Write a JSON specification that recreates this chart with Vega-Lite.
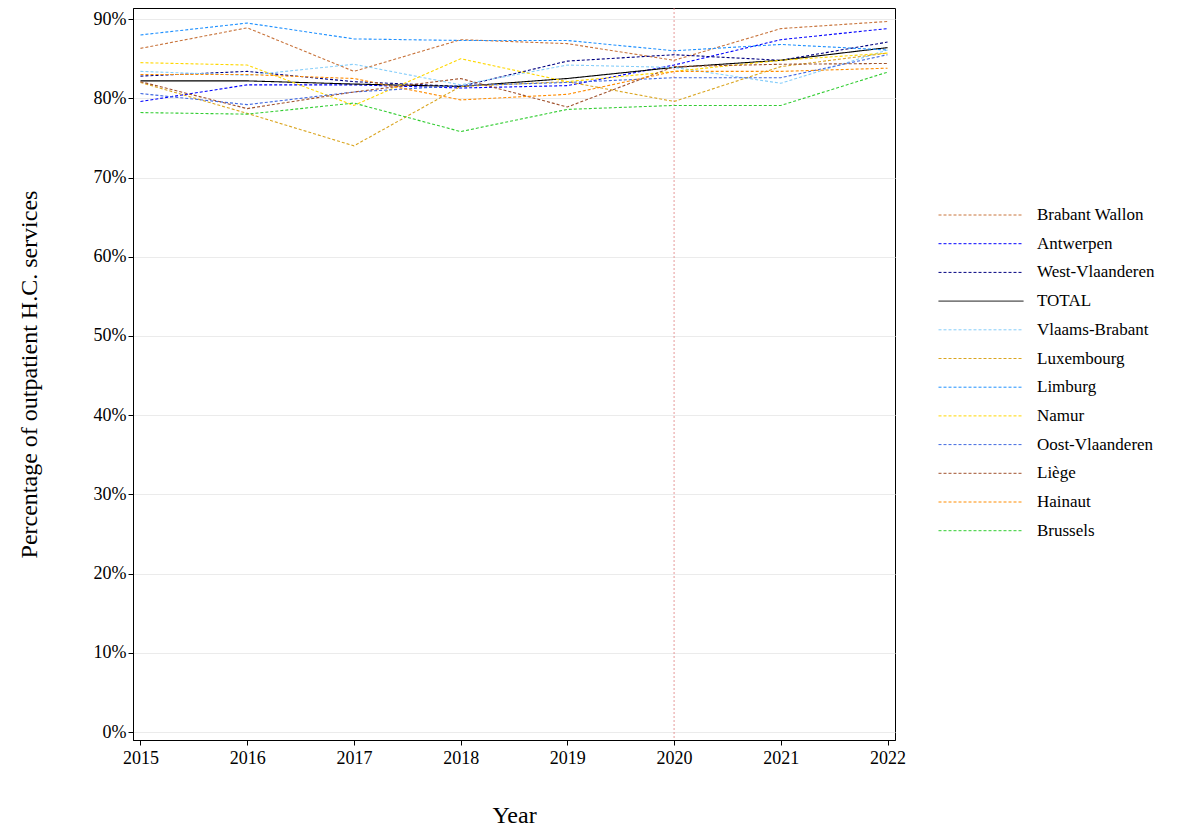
{
  "$schema": "https://vega.github.io/schema/vega-lite/v6.json",
  "width": 762,
  "height": 732,
  "autosize": {"type": "none"},
  "padding": {"left": 133, "top": 8, "right": 283, "bottom": 87},
  "background": "white",
  "config": {
    "font": "Liberation Serif",
    "view": {"stroke": "black", "strokeWidth": 1},
    "axis": {"labelFont": "Liberation Serif", "titleFont": "Liberation Serif", "labelFontSize": 18, "titleFontSize": 24, "titleFontWeight": "normal", "labelColor": "black", "titleColor": "black", "tickColor": "black", "domainColor": "black"}
  },
  "datasets": {
    "lines": [
      {"region": "Brabant Wallon", "year": 2015, "pct": 86.3}, {"region": "Brabant Wallon", "year": 2016, "pct": 88.9}, {"region": "Brabant Wallon", "year": 2017, "pct": 83.4}, {"region": "Brabant Wallon", "year": 2018, "pct": 87.4}, {"region": "Brabant Wallon", "year": 2019, "pct": 86.9}, {"region": "Brabant Wallon", "year": 2020, "pct": 84.8}, {"region": "Brabant Wallon", "year": 2021, "pct": 88.8}, {"region": "Brabant Wallon", "year": 2022, "pct": 89.7},
      {"region": "Antwerpen", "year": 2015, "pct": 79.6}, {"region": "Antwerpen", "year": 2016, "pct": 81.7}, {"region": "Antwerpen", "year": 2017, "pct": 81.7}, {"region": "Antwerpen", "year": 2018, "pct": 81.3}, {"region": "Antwerpen", "year": 2019, "pct": 81.6}, {"region": "Antwerpen", "year": 2020, "pct": 84.2}, {"region": "Antwerpen", "year": 2021, "pct": 87.4}, {"region": "Antwerpen", "year": 2022, "pct": 88.8},
      {"region": "West-Vlaanderen", "year": 2015, "pct": 82.8}, {"region": "West-Vlaanderen", "year": 2016, "pct": 83.4}, {"region": "West-Vlaanderen", "year": 2017, "pct": 82.1}, {"region": "West-Vlaanderen", "year": 2018, "pct": 81.5}, {"region": "West-Vlaanderen", "year": 2019, "pct": 84.7}, {"region": "West-Vlaanderen", "year": 2020, "pct": 85.5}, {"region": "West-Vlaanderen", "year": 2021, "pct": 84.8}, {"region": "West-Vlaanderen", "year": 2022, "pct": 87.1},
      {"region": "TOTAL", "year": 2015, "pct": 82.2}, {"region": "TOTAL", "year": 2016, "pct": 82.2}, {"region": "TOTAL", "year": 2017, "pct": 81.8}, {"region": "TOTAL", "year": 2018, "pct": 81.5}, {"region": "TOTAL", "year": 2019, "pct": 82.5}, {"region": "TOTAL", "year": 2020, "pct": 83.9}, {"region": "TOTAL", "year": 2021, "pct": 84.8}, {"region": "TOTAL", "year": 2022, "pct": 86.4},
      {"region": "Vlaams-Brabant", "year": 2015, "pct": 83.4}, {"region": "Vlaams-Brabant", "year": 2016, "pct": 82.9}, {"region": "Vlaams-Brabant", "year": 2017, "pct": 84.3}, {"region": "Vlaams-Brabant", "year": 2018, "pct": 81.7}, {"region": "Vlaams-Brabant", "year": 2019, "pct": 84.2}, {"region": "Vlaams-Brabant", "year": 2020, "pct": 83.9}, {"region": "Vlaams-Brabant", "year": 2021, "pct": 81.9}, {"region": "Vlaams-Brabant", "year": 2022, "pct": 86.1},
      {"region": "Luxembourg", "year": 2015, "pct": 82.0}, {"region": "Luxembourg", "year": 2016, "pct": 78.1}, {"region": "Luxembourg", "year": 2017, "pct": 74.0}, {"region": "Luxembourg", "year": 2018, "pct": 81.5}, {"region": "Luxembourg", "year": 2019, "pct": 82.1}, {"region": "Luxembourg", "year": 2020, "pct": 79.6}, {"region": "Luxembourg", "year": 2021, "pct": 84.0}, {"region": "Luxembourg", "year": 2022, "pct": 85.7},
      {"region": "Limburg", "year": 2015, "pct": 88.0}, {"region": "Limburg", "year": 2016, "pct": 89.5}, {"region": "Limburg", "year": 2017, "pct": 87.5}, {"region": "Limburg", "year": 2018, "pct": 87.3}, {"region": "Limburg", "year": 2019, "pct": 87.3}, {"region": "Limburg", "year": 2020, "pct": 86.0}, {"region": "Limburg", "year": 2021, "pct": 86.8}, {"region": "Limburg", "year": 2022, "pct": 86.1},
      {"region": "Namur", "year": 2015, "pct": 84.5}, {"region": "Namur", "year": 2016, "pct": 84.2}, {"region": "Namur", "year": 2017, "pct": 79.1}, {"region": "Namur", "year": 2018, "pct": 85.0}, {"region": "Namur", "year": 2019, "pct": 82.1}, {"region": "Namur", "year": 2020, "pct": 83.4}, {"region": "Namur", "year": 2021, "pct": 84.8}, {"region": "Namur", "year": 2022, "pct": 85.7},
      {"region": "Oost-Vlaanderen", "year": 2015, "pct": 80.6}, {"region": "Oost-Vlaanderen", "year": 2016, "pct": 79.2}, {"region": "Oost-Vlaanderen", "year": 2017, "pct": 80.8}, {"region": "Oost-Vlaanderen", "year": 2018, "pct": 81.6}, {"region": "Oost-Vlaanderen", "year": 2019, "pct": 82.0}, {"region": "Oost-Vlaanderen", "year": 2020, "pct": 82.6}, {"region": "Oost-Vlaanderen", "year": 2021, "pct": 82.6}, {"region": "Oost-Vlaanderen", "year": 2022, "pct": 85.5},
      {"region": "Liège", "year": 2015, "pct": 82.1}, {"region": "Liège", "year": 2016, "pct": 78.7}, {"region": "Liège", "year": 2017, "pct": 80.8}, {"region": "Liège", "year": 2018, "pct": 82.5}, {"region": "Liège", "year": 2019, "pct": 78.9}, {"region": "Liège", "year": 2020, "pct": 84.0}, {"region": "Liège", "year": 2021, "pct": 84.3}, {"region": "Liège", "year": 2022, "pct": 84.4},
      {"region": "Hainaut", "year": 2015, "pct": 83.0}, {"region": "Hainaut", "year": 2016, "pct": 83.0}, {"region": "Hainaut", "year": 2017, "pct": 82.5}, {"region": "Hainaut", "year": 2018, "pct": 79.8}, {"region": "Hainaut", "year": 2019, "pct": 80.5}, {"region": "Hainaut", "year": 2020, "pct": 83.4}, {"region": "Hainaut", "year": 2021, "pct": 83.4}, {"region": "Hainaut", "year": 2022, "pct": 83.8},
      {"region": "Brussels", "year": 2015, "pct": 78.2}, {"region": "Brussels", "year": 2016, "pct": 78.0}, {"region": "Brussels", "year": 2017, "pct": 79.4}, {"region": "Brussels", "year": 2018, "pct": 75.8}, {"region": "Brussels", "year": 2019, "pct": 78.6}, {"region": "Brussels", "year": 2020, "pct": 79.1}, {"region": "Brussels", "year": 2021, "pct": 79.1}, {"region": "Brussels", "year": 2022, "pct": 83.3}
    ],
    "marker": [{"year": 2020}]
  },
  "layer": [
    {
      "data": {"name": "marker"},
      "mark": {"type": "rule", "color": "#e08080", "strokeDash": [2, 2], "strokeWidth": 1, "opacity": 0.8},
      "encoding": {"x": {"field": "year", "type": "quantitative"}}
    },
    {
      "data": {"name": "lines"},
      "mark": {"type": "line", "strokeWidth": 1.1},
      "encoding": {
        "x": {"field": "year", "type": "quantitative", "title": "Year",
          "scale": {"domain": [2014.93, 2022.07], "nice": false, "zero": false},
          "axis": {"values": [2015, 2016, 2017, 2018, 2019, 2020, 2021, 2022], "format": "d", "grid": false, "titlePadding": 36, "labelPadding": 4}},
        "y": {"field": "pct", "type": "quantitative", "title": "Percentage of outpatient H.C. services",
          "scale": {"domain": [-1, 91.4], "nice": false},
          "axis": {"values": [0, 10, 20, 30, 40, 50, 60, 70, 80, 90], "labelExpr": "datum.value + '%'", "gridColor": "#ebebeb", "titlePadding": 52}},
        "color": {"field": "region", "type": "nominal",
          "scale": {
            "domain": ["Brabant Wallon", "Antwerpen", "West-Vlaanderen", "TOTAL", "Vlaams-Brabant", "Luxembourg", "Limburg", "Namur", "Oost-Vlaanderen", "Liège", "Hainaut", "Brussels"],
            "range": ["#c8743c", "#0000ff", "#000080", "#000000", "#87cefa", "#daa520", "#1e90ff", "#ffd700", "#4169e1", "#a0522d", "#ff8c00", "#32cd32"]},
          "legend": {"title": null, "orient": "none", "legendX": 805, "legendY": 197, "symbolType": "stroke", "symbolSize": 7225, "clipHeight": 20, "symbolStrokeWidth": 1, "symbolOpacity": 1, "labelFontSize": 17, "labelFont": "Liberation Serif", "labelColor": "black", "rowPadding": 8.7, "labelOffset": 13}},
        "strokeDash": {"field": "region", "type": "nominal",
          "scale": {
            "domain": ["Brabant Wallon", "Antwerpen", "West-Vlaanderen", "TOTAL", "Vlaams-Brabant", "Luxembourg", "Limburg", "Namur", "Oost-Vlaanderen", "Liège", "Hainaut", "Brussels"],
            "range": [[3, 2], [3, 2], [3, 2], [1, 0], [3, 2], [3, 2], [3, 2], [3, 2], [3, 2], [3, 2], [3, 2], [3, 2]]},
          "legend": {"title": null, "orient": "none", "legendX": 805, "legendY": 197, "symbolType": "stroke", "symbolSize": 7225, "clipHeight": 20, "symbolStrokeWidth": 1, "labelFontSize": 17, "labelFont": "Liberation Serif", "labelColor": "black", "rowPadding": 8.7, "labelOffset": 13}}
      }
    }
  ]
}
